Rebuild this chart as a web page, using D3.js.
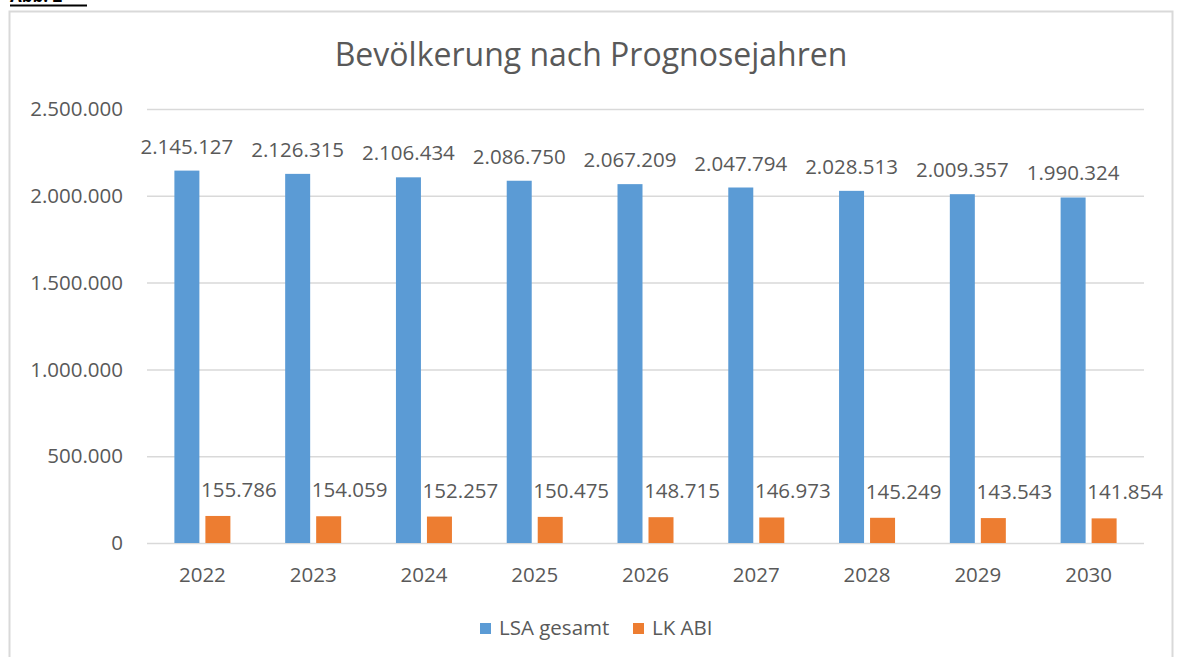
<html>
<head>
<meta charset="utf-8">
<script src="https://d3js.org/d3.v7.min.js"></script>
<style>
body { margin:0; background:#fff; }
text { font-family:"Open Sans", "Liberation Sans", sans-serif; fill:#595959; }
.grid line { stroke:#d9d9d9; stroke-width:1.5; }
.grid path { display:none; }
</style>
</head>
<body>
<div id="chart"></div>
<script>

// data
var years = ["2022","2023","2024","2025","2026","2027","2028","2029","2030"];
var lsa = [2145127, 2126315, 2106434, 2086750, 2067209, 2047794, 2028513, 2009357, 1990324];
var abi = [155786, 154059, 152257, 150475, 148715, 146973, 145249, 143543, 141854];
var seriesNames = ["LSA gesamt", "LK ABI"];
var yTicks = [0, 500000, 1000000, 1500000, 2000000, 2500000];

var colors = ["#5b9bd5", "#ed7d31"];
var fmt = function(v) { return d3.format(",")(v).replace(/,/g, "."); };

let W = 1178, H = 657;
let margin = {top:109, right:34, bottom:114, left:147},
    width = W - margin.left - margin.right,
    height = H - margin.top - margin.bottom;

let svg = d3.select("#chart").append("svg")
    .attr("width", W)
    .attr("height", H);

// caption, cut off at the top like in the scan
svg.append("text")
    .attr("x", 10)
    .attr("y", 2)
    .attr("font-size", 17)
    .attr("font-weight", "bold")
    .style("fill", "#000")
    .text("Abb. 2");
svg.append("line")
    .attr("x1", 10).attr("x2", 87)
    .attr("y1", 5.5).attr("y2", 5.5)
    .attr("stroke", "#000").attr("stroke-width", 2);

// chart frame
svg.append("rect")
    .attr("x", 9.5).attr("y", 11.5)
    .attr("width", 1163).attr("height", 700)
    .attr("fill", "none")
    .attr("stroke", "#d9d9d9")
    .attr("stroke-width", 2);

// title
svg.append("text")
    .attr("x", 591)
    .attr("y", 66)
    .attr("text-anchor", "middle")
    .attr("font-size", 32)
    .text("Bevölkerung nach Prognosejahren");

let g = svg.append("g")
    .attr("transform", "translate(" + margin.left + "," + margin.top + ")");

let x = d3.scaleBand().domain(years).range([0, width]);
let y = d3.scaleLinear().domain([0, 2500000]).range([height, 0]);

// grid
g.append("g")
    .attr("class", "grid")
    .call(d3.axisLeft(y).tickValues(yTicks).tickSize(-width).tickFormat(""));

// y labels
g.selectAll(".ylab")
    .data(yTicks)
  .enter().append("text")
    .attr("class", "ylab")
    .attr("x", -24)
    .attr("y", function(d) { return y(d); })
    .attr("dy", "0.35em")
    .attr("text-anchor", "end")
    .attr("font-size", 20.5)
    .text(function(d) { return fmt(d); });

// x labels
g.selectAll(".xlab")
    .data(years)
  .enter().append("text")
    .attr("class", "xlab")
    .attr("x", function(d) { return x(d) + x.bandwidth()/2; })
    .attr("y", height + 32)
    .attr("dy", "0.35em")
    .attr("text-anchor", "middle")
    .attr("font-size", 20.5)
    .text(function(d) { return d; });

let barW = 25, gap = 6;
let series = [lsa, abi];

series.forEach(function(vals, si) {
  let off = si == 0 ? -gap/2 - barW : gap/2;
  g.selectAll(".bar" + si)
      .data(vals)
    .enter().append("rect")
      .attr("class", "bar" + si)
      .attr("x", function(d, i) { return x(years[i]) + x.bandwidth()/2 + off; })
      .attr("y", function(d) { return y(d); })
      .attr("width", barW)
      .attr("height", function(d) { return height - y(d); })
      .attr("fill", colors[si]);

  g.selectAll(".lab" + si)
      .data(vals)
    .enter().append("text")
      .attr("class", "lab" + si)
      .attr("x", function(d, i) {
        return x(years[i]) + x.bandwidth()/2 + off + barW/2 + (si == 0 ? 0 : 21);
      })
      .attr("y", function(d) { return y(d) - (si == 0 ? 17 : 19); })
      .attr("text-anchor", "middle")
      .attr("font-size", 20.5)
      .text(function(d) { return fmt(d); });
});

// legend
let legend = svg.append("g").attr("transform", "translate(480,628)");
let lx = [0, 153];
seriesNames.forEach(function(n, i) {
  legend.append("rect")
      .attr("x", lx[i]).attr("y", -5)
      .attr("width", 11).attr("height", 11)
      .attr("fill", colors[i]);
  legend.append("text")
      .attr("x", lx[i] + 19)
      .attr("y", 0)
      .attr("dy", "0.35em")
      .attr("font-size", 20.5)
      .text(n);
});

</script>
</body>
</html>
